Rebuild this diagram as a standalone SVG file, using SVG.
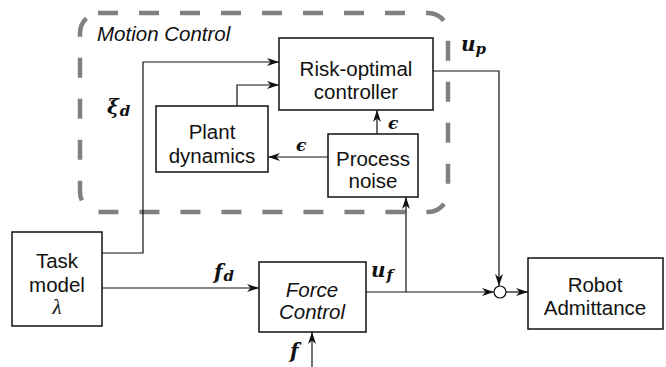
<svg xmlns="http://www.w3.org/2000/svg" width="666" height="367" viewBox="0 0 666 367">
<defs>
<marker id="arr" markerUnits="userSpaceOnUse" markerWidth="13" markerHeight="8" refX="12" refY="4" orient="auto" viewBox="0 0 13 8">
<path d="M0,0 L12,4 L0,8 L3.5,4 Z" fill="#111"/>
</marker>
<style>
.box{fill:#fff;stroke:#111;stroke-width:1.5}
.lbl{font-family:"Liberation Sans",Arial,sans-serif;font-size:20.5px;fill:#111;text-anchor:middle}
.it{font-style:italic}
.math{font-family:"DejaVu Serif","Liberation Serif",serif;font-weight:bold;font-style:italic;font-size:20px;fill:#111}
.sub{font-size:15px}
.eps{font-family:"DejaVu Serif",serif;font-weight:bold;font-style:italic;font-size:17px;fill:#111}
.wire{fill:none;stroke:#111;stroke-width:1.2}
.arw{marker-end:url(#arr)}
</style>
</defs>
<rect width="666" height="367" fill="#fff"/>
<g id="motion-control">
<path d="M98,13 H428 A20,20 0 0 1 448,33 V192 A20,20 0 0 1 428,212 H100 A20,20 0 0 1 80,192 V33 A20,20 0 0 1 100,13 Z" fill="none" stroke="#808080" stroke-width="4.5" stroke-dasharray="20 21"/>
<text x="97" y="41" font-family="'Liberation Sans',Arial,sans-serif" font-size="20.5" font-style="italic" fill="#111">Motion Control</text>
</g>
<g id="connectors">
<path class="wire arw" d="M102,253 H143 V62 H279"/>
<path class="wire arw" d="M237,106 V85 H279"/>
<path class="wire arw" d="M377,134 V110"/>
<path class="wire arw" d="M328,157 H268"/>
<path class="wire arw" d="M102,288 H259"/>
<path class="wire arw" d="M312,367 V332"/>
<path class="wire arw" d="M366,292 H494"/>
<path class="wire arw" d="M406,292 V197"/>
<path class="wire arw" d="M433,71 H499 V286"/>
<path class="wire arw" d="M506,292 H528"/>
<circle cx="500" cy="292" r="6" fill="#fff" stroke="#111" stroke-width="1.2"/>
<text class="math" x="107" y="114">ξ<tspan class="sub" dx="1" dy="2">d</tspan></text>
<text class="math" x="461" y="51">u<tspan class="sub" dy="3">p</tspan></text>
<text class="math" x="214" y="279">f<tspan class="sub" dx="1" dy="2">d</tspan></text>
<text class="math" x="371" y="277">u<tspan class="sub" dx="1" dy="3">f</tspan></text>
<text class="math" x="290" y="358">f</text>
<text class="eps" x="296" y="151">ϵ</text>
<text class="eps" x="388" y="129">ϵ</text>
</g>
<g id="risk-controller">
<rect class="box" x="279" y="38" width="154" height="72"/>
<text class="lbl" x="356" y="76">Risk-optimal</text>
<text class="lbl" x="356" y="99">controller</text>
</g>
<g id="plant-dynamics">
<rect class="box" x="156" y="106" width="112" height="66"/>
<text class="lbl" x="212" y="139">Plant</text>
<text class="lbl" x="212" y="163">dynamics</text>
</g>
<g id="process-noise">
<rect class="box" x="328" y="134" width="90" height="63"/>
<text class="lbl" x="373" y="166">Process</text>
<text class="lbl" x="373" y="188">noise</text>
</g>
<g id="task-model">
<rect class="box" x="12" y="232" width="90" height="94"/>
<text class="lbl" x="57" y="268">Task</text>
<text class="lbl" x="57" y="292">model</text>
<text x="57" y="314" font-family="'Liberation Serif',serif" font-style="italic" font-size="21" fill="#111" text-anchor="middle">λ</text>
</g>
<g id="force-control">
<rect class="box" x="259" y="262" width="107" height="70"/>
<text class="lbl it" x="312" y="297">Force</text>
<text class="lbl it" x="312" y="319">Control</text>
</g>
<g id="robot-admittance">
<rect class="box" x="528" y="258" width="135" height="71"/>
<text class="lbl" x="595" y="292">Robot</text>
<text class="lbl" x="595" y="315">Admittance</text>
</g>
</svg>
